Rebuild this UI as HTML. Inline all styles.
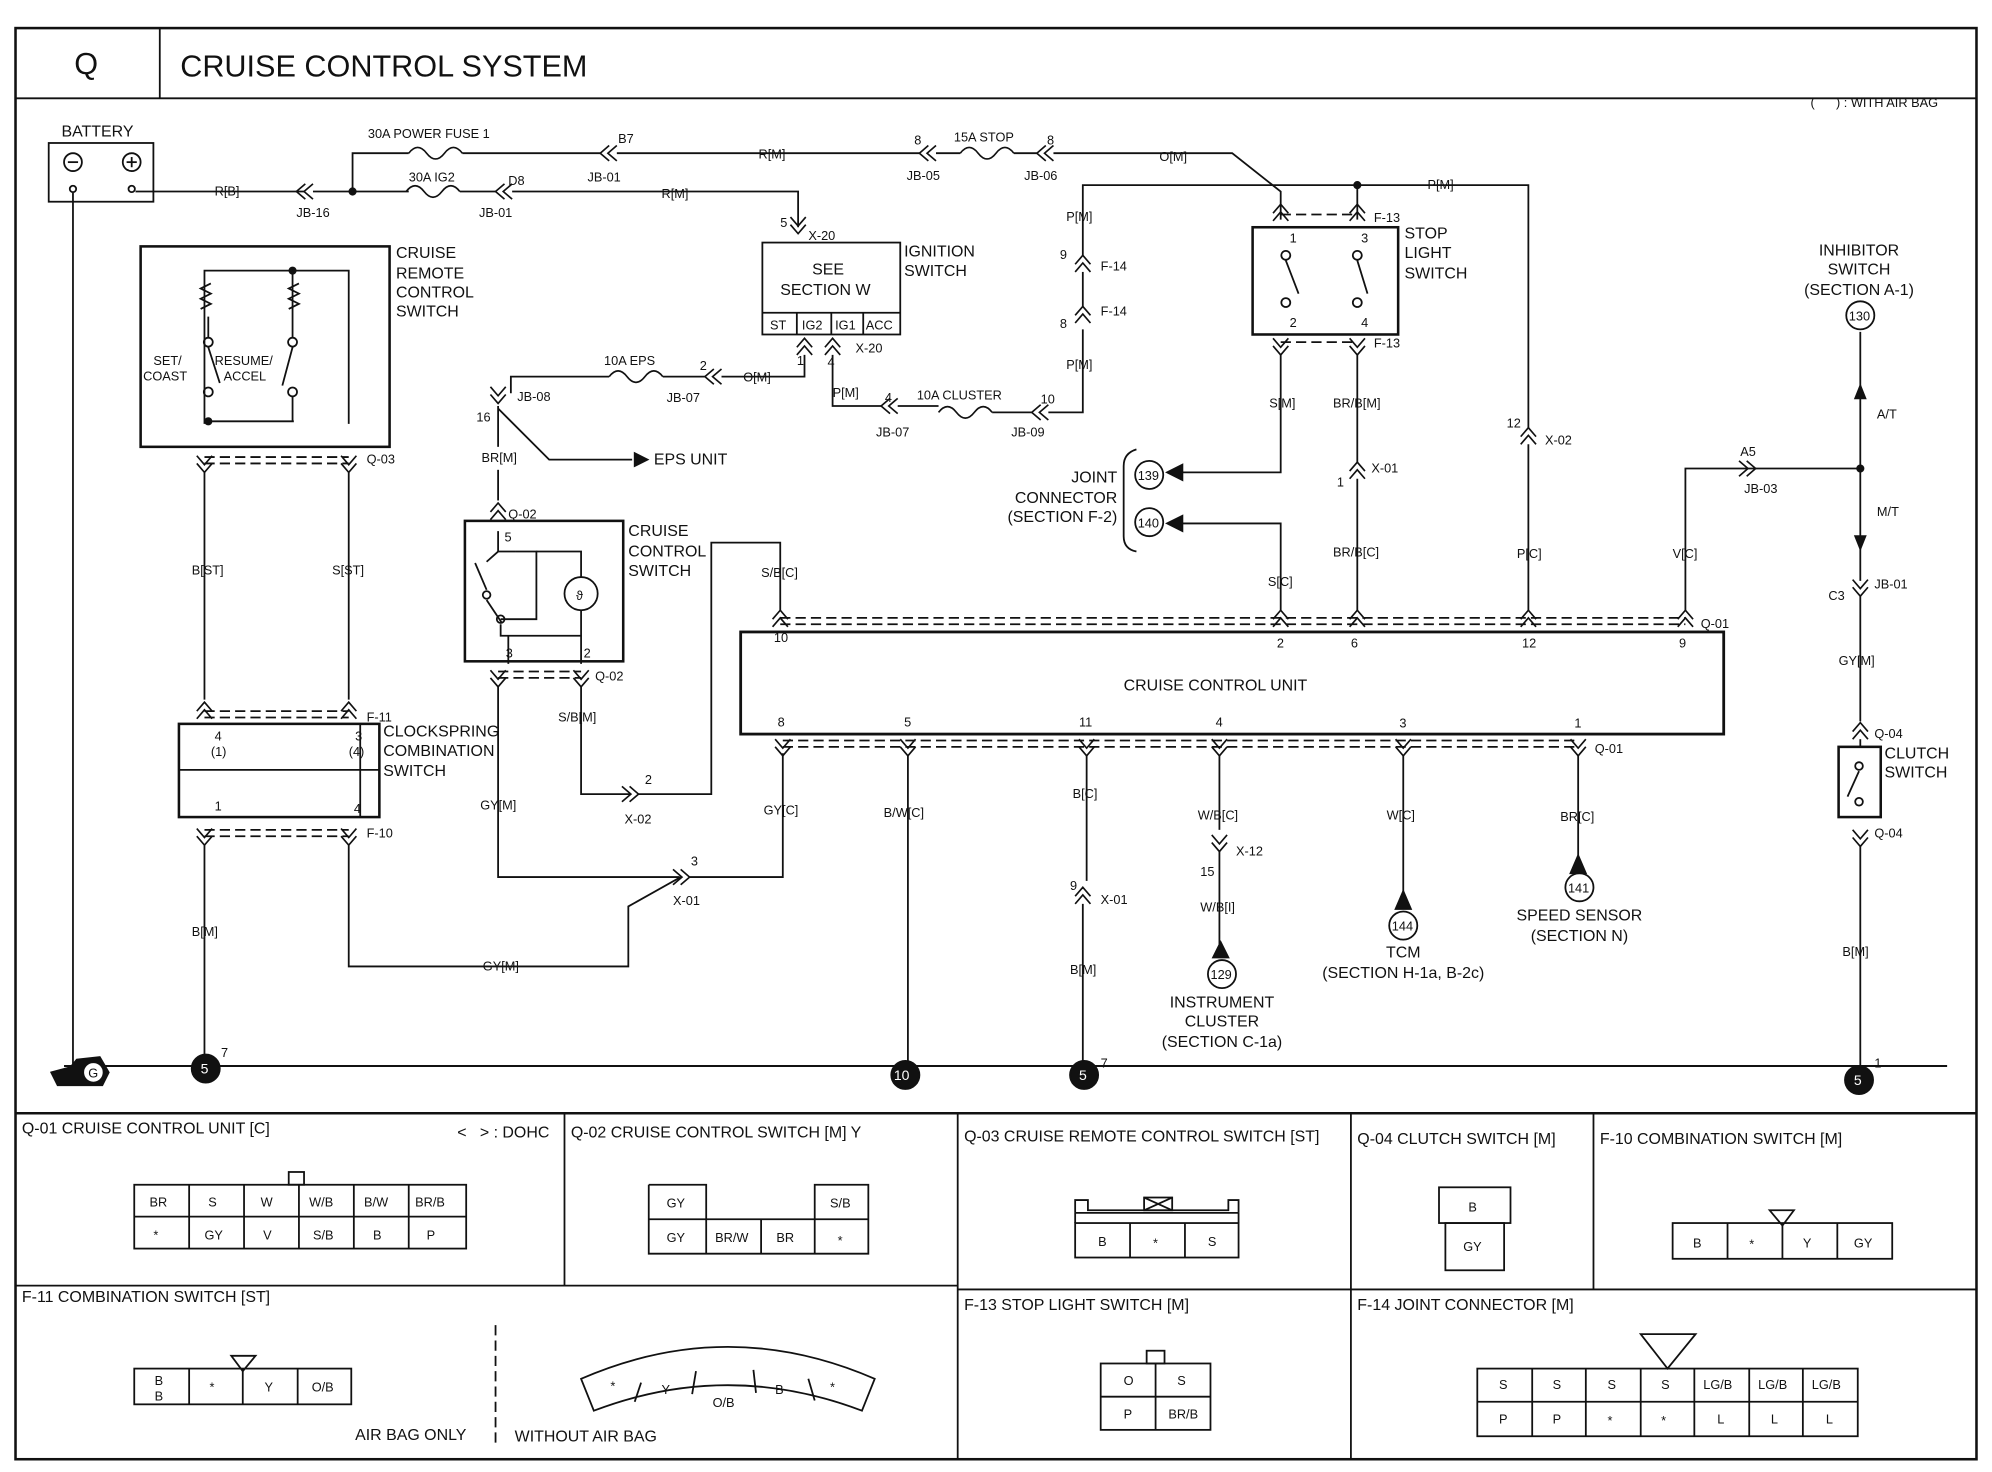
<!DOCTYPE html>
<html><head><meta charset="utf-8"><style>
html,body{margin:0;padding:0;background:#fff;}
svg{display:block;}
text{font-family:"Liberation Sans",sans-serif;fill:#111;}
.s{font-size:10px}.m{font-size:12.5px}.l{font-size:13.5px}
line,path,rect,polyline,circle{stroke:#111;fill:none;stroke-width:1.4}
.d{stroke-dasharray:8 4}
.f{fill:#111}
</style></head><body>
<svg width="1992" height="1472" viewBox="0 0 1560 1153" xmlns="http://www.w3.org/2000/svg">
<defs>
<path id="cv" d="M-6 7 L0 0 L6 7 M-6 13 L0 6 L6 13" style="stroke:#111;fill:none;stroke-width:1.3"/>
<path id="cd" d="M-6 -7 L0 0 L6 -7 M-6 -13 L0 -6 L6 -13" style="stroke:#111;fill:none;stroke-width:1.3"/>
<path id="ch" d="M7 -6 L0 0 L7 6 M13 -6 L6 0 L13 6" style="stroke:#111;fill:none;stroke-width:1.3"/>
<path id="fu" d="M0 0 q7 -9 14 0 q7 9 14 0 q7 -9 14 0" style="stroke:#111;fill:none;stroke-width:1.3"/>
</defs>
<rect x="12" y="22" width="1536" height="1121" style="stroke-width:2"/>
<line x1="12" y1="77" x2="1548" y2="77"/>
<line x1="125" y1="22" x2="125" y2="77"/>
<text x="58" y="58" style="font-size:24px">Q</text>
<text x="141" y="60" style="font-size:24px">CRUISE CONTROL SYSTEM</text>
<text x="1418" y="84" class="s">(&#160;&#160;&#160;&#160;&#160;&#160;) : WITH AIR BAG</text>

<text x="48" y="107" class="m">BATTERY</text>
<rect x="38" y="112" width="82" height="46"/>
<circle cx="57" cy="127" r="7"/><line x1="53" y1="127" x2="61" y2="127"/>
<circle cx="103" cy="127" r="7"/><line x1="99" y1="127" x2="107" y2="127"/><line x1="103" y1="123" x2="103" y2="131"/>
<circle cx="57" cy="148" r="2.5"/><circle cx="103" cy="148" r="2.5"/>
<line x1="57" y1="151" x2="57" y2="835"/>
<polyline points="106,150 238,150"/><use href="#ch" x="232" y="150"/>
<line x1="245" y1="150" x2="320" y2="150"/>
<text x="168" y="153" class="s">R[B]</text><text x="232" y="170" class="s">JB-16</text>
<circle cx="276" cy="150" r="2.5" class="f"/>
<polyline points="276,150 276,120 320,120"/>
<use href="#fu" x="320" y="120"/><text x="288" y="108" class="s">30A POWER FUSE 1</text>
<line x1="362" y1="120" x2="470" y2="120"/><use href="#ch" x="470" y="120"/>
<line x1="483" y1="120" x2="720" y2="120"/><text x="484" y="112" class="s">B7</text><text x="460" y="142" class="s">JB-01</text>
<text x="594" y="124" class="s">R[M]</text>
<use href="#ch" x="720" y="120"/><text x="716" y="113" class="s">8</text><text x="710" y="141" class="s">JB-05</text>
<line x1="733" y1="120" x2="752" y2="120"/><use href="#fu" x="752" y="120"/><text x="747" y="111" class="s">15A STOP</text>
<line x1="794" y1="120" x2="812" y2="120"/><use href="#ch" x="812" y="120"/><text x="820" y="113" class="s">8</text><text x="802" y="141" class="s">JB-06</text>
<polyline points="825,120 965,120 1003,150 1003,172"/><text x="908" y="126" class="s">O[M]</text>
<use href="#fu" x="318" y="150"/><text x="320" y="142" class="s">30A IG2</text>
<line x1="360" y1="150" x2="388" y2="150"/><use href="#ch" x="388" y="150"/><text x="398" y="145" class="s">D8</text><text x="375" y="170" class="s">JB-01</text>
<polyline points="401,150 625,150 625,178"/><text x="518" y="155" class="s">R[M]</text>
<use href="#cd" x="625" y="183"/><text x="611" y="178" class="s">5</text><text x="633" y="188" class="s">X-20</text>

<rect x="597" y="190" width="108" height="72"/>
<text x="636" y="215" class="m">SEE</text><text x="611" y="231" class="m">SECTION W</text>
<line x1="597" y1="245" x2="705" y2="245"/>
<line x1="624" y1="245" x2="624" y2="262"/><line x1="651" y1="245" x2="651" y2="262"/><line x1="676" y1="245" x2="676" y2="262"/>
<text x="603" y="258" class="s">ST</text><text x="628" y="258" class="s">IG2</text><text x="654" y="258" class="s">IG1</text><text x="678" y="258" class="s">ACC</text>
<text x="708" y="201" class="m">IGNITION</text><text x="708" y="216" class="m">SWITCH</text>
<use href="#cv" x="630" y="265"/><use href="#cv" x="652" y="265"/><text x="670" y="276" class="s">X-20</text>
<text x="624" y="286" class="s">1</text><text x="648" y="287" class="s">4</text>
<polyline points="630,278 630,295 565,295"/><text x="582" y="299" class="s">O[M]</text>
<use href="#ch" x="552" y="295"/><text x="548" y="290" class="s">2</text><text x="522" y="315" class="s">JB-07</text>
<line x1="519" y1="295" x2="552" y2="295"/><use href="#fu" x="477" y="295"/><text x="473" y="286" class="s">10A EPS</text>
<polyline points="477,295 400,295 400,308"/>
<use href="#cd" x="390" y="316"/><text x="405" y="314" class="s">JB-08</text><text x="373" y="330" class="s">16</text>
<line x1="390" y1="318" x2="390" y2="350"/>
<polyline points="390,320 430,360 495,360"/><path d="M497 355 L507 360 L497 365 Z" class="f"/>
<text x="512" y="364" class="m">EPS UNIT</text>
<text x="377" y="362" class="s">BR[M]</text>
<line x1="390" y1="368" x2="390" y2="392"/>
<use href="#cv" x="390" y="394"/><text x="398" y="406" class="s">Q-02</text>
<polyline points="652,278 652,318 690,318"/><text x="652" y="311" class="s">P[M]</text>
<use href="#ch" x="690" y="318"/><text x="693" y="315" class="s">4</text><text x="686" y="342" class="s">JB-07</text>
<line x1="703" y1="318" x2="735" y2="318"/><use href="#fu" x="735" y="323"/><text x="718" y="313" class="s">10A CLUSTER</text>
<line x1="777" y1="323" x2="808" y2="323"/><use href="#ch" x="808" y="323"/><text x="815" y="316" class="s">10</text><text x="792" y="342" class="s">JB-09</text>
<polyline points="821,323 848,323 848,258"/><text x="835" y="289" class="s">P[M]</text>
<use href="#cv" x="848" y="240"/><text x="830" y="257" class="s">8</text><text x="862" y="247" class="s">F-14</text>
<use href="#cv" x="848" y="200"/><text x="830" y="203" class="s">9</text><text x="862" y="212" class="s">F-14</text>
<line x1="848" y1="213" x2="848" y2="240"/>
<polyline points="848,200 848,145 1197,145 1197,335"/><text x="835" y="173" class="s">P[M]</text>
<circle cx="1063" cy="145" r="2.5" class="f"/><text x="1118" y="148" class="s">P[M]</text>
<line x1="1063" y1="145" x2="1063" y2="172"/>

<use href="#cv" x="1003" y="160"/><use href="#cv" x="1063" y="160"/>
<line x1="1003" y1="168" x2="1063" y2="168" class="d"/><text x="1076" y="174" class="s">F-13</text>
<rect x="981" y="178" width="114" height="84" style="stroke-width:2"/>
<text x="1100" y="187" class="m">STOP</text><text x="1100" y="202" class="m">LIGHT</text><text x="1100" y="218" class="m">SWITCH</text>
<text x="1010" y="190" class="s">1</text><text x="1066" y="190" class="s">3</text>
<text x="1010" y="256" class="s">2</text><text x="1066" y="256" class="s">4</text>
<circle cx="1007" cy="200" r="3.5"/><circle cx="1007" cy="237" r="3.5"/><line x1="1007" y1="204" x2="1017" y2="230"/>
<circle cx="1063" cy="200" r="3.5"/><circle cx="1063" cy="237" r="3.5"/><line x1="1063" y1="204" x2="1071" y2="230"/>
<use href="#cd" x="1003" y="278"/><use href="#cd" x="1063" y="278"/>
<line x1="1003" y1="268" x2="1063" y2="268" class="d"/><text x="1076" y="272" class="s">F-13</text>
<polyline points="1003,278 1003,370 925,370"/><path d="M926 364 L914 370 L926 376 Z" class="f"/>
<text x="994" y="319" class="s">S[M]</text>
<line x1="1063" y1="278" x2="1063" y2="362"/><text x="1044" y="319" class="s">BR/B[M]</text>
<use href="#cv" x="1063" y="362"/><text x="1074" y="370" class="s">X-01</text><text x="1047" y="381" class="s">1</text>
<line x1="1063" y1="375" x2="1063" y2="478"/><text x="1044" y="436" class="s">BR/B[C]</text>
<use href="#cv" x="1197" y="335"/><text x="1180" y="335" class="s">12</text><text x="1210" y="348" class="s">X-02</text>
<line x1="1197" y1="348" x2="1197" y2="478"/><text x="1188" y="437" class="s">P[C]</text>
<polyline points="1003,478 1003,410 925,410"/><path d="M926 404 L914 410 L926 416 Z" class="f"/><text x="993" y="459" class="s">S[C]</text>
<circle cx="900" cy="372" r="11"/><text x="891" y="376" class="s">139</text>
<circle cx="900" cy="409" r="11"/><text x="891" y="413" class="s">140</text>
<path d="M890 352 Q880 355 880 365 L880 420 Q880 430 890 432"/>
<text x="875" y="378" class="m" text-anchor="end">JOINT</text><text x="875" y="394" class="m" text-anchor="end">CONNECTOR</text><text x="875" y="409" class="m" text-anchor="end">(SECTION F-2)</text>

<rect x="110" y="193" width="195" height="157" style="stroke-width:2"/>
<text x="310" y="202" class="m">CRUISE</text><text x="310" y="218" class="m">REMOTE</text><text x="310" y="233" class="m">CONTROL</text><text x="310" y="248" class="m">SWITCH</text>
<polyline points="160,332 160,212 273,212 273,332"/><circle cx="229" cy="212" r="2.5" class="f"/>
<path d="M165 222 l-8 4 l8 4 l-8 4 l8 4 l-8 4"/><path d="M234 222 l-8 4 l8 4 l-8 4 l8 4 l-8 4"/>
<circle cx="163" cy="268" r="3.5"/><circle cx="163" cy="307" r="3.5"/><line x1="163" y1="272" x2="172" y2="300"/>
<circle cx="163" cy="330" r="2.5" class="f"/><line x1="160" y1="330" x2="230" y2="330"/>
<line x1="163" y1="248" x2="163" y2="264"/><line x1="229" y1="212" x2="229" y2="264"/>
<circle cx="229" cy="268" r="3.5"/><circle cx="229" cy="307" r="3.5"/><line x1="229" y1="272" x2="221" y2="302"/>
<line x1="229" y1="311" x2="229" y2="330"/>
<text x="120" y="286" class="s">SET/</text><text x="112" y="298" class="s">COAST</text>
<text x="168" y="286" class="s">RESUME/</text><text x="175" y="298" class="s">ACCEL</text>
<use href="#cd" x="160" y="370"/><use href="#cd" x="273" y="370"/>
<line x1="160" y1="358" x2="273" y2="358" class="d"/><line x1="160" y1="363" x2="273" y2="363" class="d"/><text x="287" y="363" class="s">Q-03</text>
<line x1="160" y1="370" x2="160" y2="548"/><line x1="273" y1="370" x2="273" y2="548"/>
<text x="150" y="450" class="s">B[ST]</text><text x="260" y="450" class="s">S[ST]</text>
<use href="#cv" x="160" y="550"/><use href="#cv" x="273" y="550"/>
<line x1="160" y1="557" x2="273" y2="557" class="d"/><line x1="160" y1="562" x2="273" y2="562" class="d"/><text x="287" y="565" class="s">F-11</text>
<rect x="140" y="567" width="157" height="73" style="stroke-width:2"/>
<line x1="140" y1="603" x2="297" y2="603"/><line x1="282" y1="567" x2="282" y2="640"/>
<text x="168" y="580" class="s">4</text><text x="165" y="592" class="s">(1)</text><text x="278" y="580" class="s">3</text><text x="273" y="592" class="s">(4)</text>
<text x="168" y="635" class="s">1</text><text x="277" y="637" class="s">4</text>
<text x="300" y="577" class="m">CLOCKSPRING</text><text x="300" y="592" class="m">COMBINATION</text><text x="300" y="608" class="m">SWITCH</text>
<use href="#cd" x="160" y="662"/><use href="#cd" x="273" y="662"/>
<line x1="160" y1="650" x2="273" y2="650" class="d"/><line x1="160" y1="655" x2="273" y2="655" class="d"/><text x="287" y="656" class="s">F-10</text>
<line x1="160" y1="662" x2="160" y2="828"/><text x="150" y="733" class="s">B[M]</text>
<polyline points="273,662 273,757 492,757 492,710 533,687"/><text x="378" y="760" class="s">GY[M]</text>

<rect x="364" y="408" width="124" height="110" style="stroke-width:2"/>
<text x="492" y="420" class="m">CRUISE</text><text x="492" y="436" class="m">CONTROL</text><text x="492" y="451" class="m">SWITCH</text>
<text x="395" y="424" class="s">5</text>
<polyline points="390,416 390,432 404,432"/>
<circle cx="381" cy="466" r="3"/><line x1="381" y1="470" x2="393" y2="488"/><line x1="372" y1="441" x2="381" y2="462"/>
<polyline points="390,432 381,440"/>
<circle cx="392" cy="485" r="3"/><polyline points="392,489 392,498 455,498"/>
<polyline points="404,432 420,432 420,485 392,485"/>
<polyline points="420,432 455,432 455,452"/>
<circle cx="455" cy="465" r="13"/><text x="451" y="470" class="s">ϑ</text>
<line x1="455" y1="478" x2="455" y2="520"/>
<line x1="398" y1="498" x2="398" y2="520"/>
<text x="396" y="515" class="s">3</text><text x="457" y="515" class="s">2</text>
<use href="#cd" x="390" y="538"/><use href="#cd" x="455" y="538"/>
<line x1="390" y1="526" x2="455" y2="526" class="d"/><line x1="390" y1="531" x2="455" y2="531" class="d"/><text x="466" y="533" class="s">Q-02</text>
<polyline points="390,538 390,687 532,687"/><text x="376" y="634" class="s">GY[M]</text>
<use href="#ch" x="540" y="687" transform="rotate(180 540 687)"/><text x="541" y="678" class="s">3</text><text x="527" y="709" class="s">X-01</text>
<polyline points="540,687 613,687 613,590"/><text x="598" y="638" class="s">GY[C]</text>
<polyline points="455,538 455,622 493,622"/><text x="437" y="565" class="s">S/B[M]</text>
<use href="#ch" x="500" y="622" transform="rotate(180 500 622)"/><text x="505" y="614" class="s">2</text><text x="489" y="645" class="s">X-02</text>
<polyline points="500,622 557,622 557,425 611,425 611,478"/><text x="596" y="452" class="s">S/B[C]</text>

<g>
<use href="#cv" x="611" y="478"/><use href="#cv" x="1003" y="478"/><use href="#cv" x="1063" y="478"/><use href="#cv" x="1197" y="478"/><use href="#cv" x="1320" y="478"/>
<line x1="611" y1="484" x2="1320" y2="484" class="d"/><line x1="611" y1="489" x2="1320" y2="489" class="d"/><text x="1332" y="492" class="s">Q-01</text>
</g>
<polyline points="1320,478 1320,367 1375,367"/><text x="1310" y="437" class="s">V[C]</text>
<rect x="580" y="495" width="770" height="80" style="stroke-width:2.2"/>
<text x="880" y="541" class="m">CRUISE CONTROL UNIT</text>
<text x="606" y="503" class="s">10</text><text x="1000" y="507" class="s">2</text><text x="1058" y="507" class="s">6</text><text x="1192" y="507" class="s">12</text><text x="1315" y="507" class="s">9</text>
<text x="609" y="569" class="s">8</text><text x="708" y="569" class="s">5</text><text x="845" y="569" class="s">11</text><text x="952" y="569" class="s">4</text><text x="1096" y="570" class="s">3</text><text x="1233" y="570" class="s">1</text>
<g>
<use href="#cd" x="613" y="592"/><use href="#cd" x="711" y="592"/><use href="#cd" x="851" y="592"/><use href="#cd" x="955" y="592"/><use href="#cd" x="1099" y="592"/><use href="#cd" x="1236" y="592"/>
<line x1="613" y1="580" x2="1236" y2="580" class="d"/><line x1="613" y1="585" x2="1236" y2="585" class="d"/><text x="1249" y="590" class="s">Q-01</text>
</g>
<line x1="711" y1="592" x2="711" y2="835"/><text x="692" y="640" class="s">B/W[C]</text>
<line x1="851" y1="592" x2="851" y2="690"/><text x="840" y="625" class="s">B[C]</text>
<use href="#cv" x="848" y="695"/><text x="838" y="697" class="s">9</text><text x="862" y="708" class="s">X-01</text>
<line x1="848" y1="708" x2="848" y2="835"/><text x="838" y="763" class="s">B[M]</text>
<line x1="955" y1="592" x2="955" y2="650"/><text x="938" y="642" class="s">W/B[C]</text>
<use href="#cd" x="955" y="667"/><text x="968" y="670" class="s">X-12</text><text x="940" y="686" class="s">15</text>
<line x1="955" y1="667" x2="955" y2="740"/><text x="940" y="714" class="s">W/B[I]</text>
<path d="M950 750 L956 738 L962 750 Z" class="f"/><circle cx="957" cy="763" r="11"/><text x="948" y="767" class="s">129</text>
<text x="957" y="789" class="m" text-anchor="middle">INSTRUMENT</text><text x="957" y="804" class="m" text-anchor="middle">CLUSTER</text><text x="957" y="820" class="m" text-anchor="middle">(SECTION C-1a)</text>
<line x1="1099" y1="592" x2="1099" y2="700"/><text x="1086" y="642" class="s">W[C]</text>
<path d="M1093 712 L1099 698 L1105 712 Z" class="f"/><circle cx="1099" cy="725" r="11"/><text x="1090" y="729" class="s">144</text>
<text x="1099" y="750" class="m" text-anchor="middle">TCM</text><text x="1099" y="766" class="m" text-anchor="middle">(SECTION H-1a, B-2c)</text>
<line x1="1236" y1="592" x2="1236" y2="670"/><text x="1222" y="643" class="s">BR[C]</text>
<path d="M1230 684 L1236 670 L1242 684 Z" class="f"/><circle cx="1237" cy="695" r="11"/><text x="1228" y="699" class="s">141</text>
<text x="1237" y="721" class="m" text-anchor="middle">SPEED SENSOR</text><text x="1237" y="737" class="m" text-anchor="middle">(SECTION N)</text>

<use href="#ch" x="1375" y="367" transform="rotate(180 1375 367)"/><text x="1363" y="357" class="s">A5</text><text x="1366" y="386" class="s">JB-03</text>
<line x1="1375" y1="367" x2="1457" y2="367"/><circle cx="1457" cy="367" r="2.5" class="f"/>
<line x1="1457" y1="260" x2="1457" y2="455"/><path d="M1453 312 L1457 302 L1461 312 Z" class="f"/><path d="M1453 420 L1457 430 L1461 420 Z" class="f"/>
<text x="1470" y="328" class="s">A/T</text><text x="1470" y="404" class="s">M/T</text>
<circle cx="1457" cy="247" r="11"/><text x="1448" y="251" class="s">130</text>
<text x="1456" y="200" class="m" text-anchor="middle">INHIBITOR</text><text x="1456" y="215" class="m" text-anchor="middle">SWITCH</text><text x="1456" y="231" class="m" text-anchor="middle">(SECTION A-1)</text>
<use href="#cd" x="1457" y="467"/><text x="1468" y="461" class="s">JB-01</text><text x="1432" y="470" class="s">C3</text>
<line x1="1457" y1="467" x2="1457" y2="565"/><text x="1440" y="521" class="s">GY[M]</text>
<use href="#cv" x="1457" y="566"/><text x="1468" y="578" class="s">Q-04</text>
<line x1="1457" y1="579" x2="1457" y2="585"/>
<rect x="1440" y="585" width="33" height="55" style="stroke-width:2"/>
<circle cx="1456" cy="600" r="3"/><circle cx="1456" cy="628" r="3"/><line x1="1456" y1="604" x2="1447" y2="624"/>
<text x="1476" y="594" class="m">CLUTCH</text><text x="1476" y="609" class="m">SWITCH</text>
<use href="#cd" x="1457" y="663"/><text x="1468" y="656" class="s">Q-04</text>
<line x1="1457" y1="663" x2="1457" y2="835"/><text x="1443" y="749" class="s">B[M]</text>

<line x1="50" y1="835" x2="1525" y2="835" style="stroke-width:1.6"/>
<circle cx="161" cy="837" r="11" class="f"/><text x="157" y="841" style="font-size:11px;fill:#fff">5</text><text x="173" y="828" class="s">7</text>
<circle cx="709" cy="842" r="11" class="f"/><text x="700" y="846" style="font-size:11px;fill:#fff">10</text>
<circle cx="849" cy="842" r="11" class="f"/><text x="845" y="846" style="font-size:11px;fill:#fff">5</text><text x="862" y="836" class="s">7</text>
<circle cx="1456" cy="846" r="11" class="f"/><text x="1452" y="850" style="font-size:11px;fill:#fff">5</text><text x="1468" y="836" class="s">1</text>
<path d="M40 840 L55 836 L60 830 L78 828 L85 840 L80 850 L45 850 Z" class="f"/><circle cx="73" cy="840" r="8" style="fill:#fff;stroke:#111"/><text x="69" y="844" class="s">G</text>

<line x1="12" y1="872" x2="1548" y2="872" style="stroke-width:2"/>
<line x1="12" y1="1007" x2="750" y2="1007"/><line x1="750" y1="1010" x2="1548" y2="1010"/>
<line x1="442" y1="872" x2="442" y2="1007"/><line x1="750" y1="872" x2="750" y2="1143"/><line x1="1058" y1="872" x2="1058" y2="1143"/><line x1="1248" y1="872" x2="1248" y2="1010"/>
<text x="17" y="888" class="m">Q-01 CRUISE CONTROL UNIT [C]</text><text x="358" y="891" class="m">&lt;&#160;&#160;&#160;&gt; : DOHC</text>
<text x="447" y="891" class="m">Q-02 CRUISE CONTROL SWITCH [M] Y</text>
<text x="755" y="894" class="m">Q-03 CRUISE REMOTE CONTROL SWITCH [ST]</text>
<text x="1063" y="896" class="m">Q-04 CLUTCH SWITCH [M]</text>
<text x="1253" y="896" class="m">F-10 COMBINATION SWITCH [M]</text>
<text x="17" y="1020" class="m">F-11 COMBINATION SWITCH [ST]</text>
<text x="755" y="1026" class="m">F-13 STOP LIGHT SWITCH [M]</text>
<text x="1063" y="1026" class="m">F-14 JOINT CONNECTOR [M]</text>

<rect x="105" y="928" width="260" height="50"/><line x1="105" y1="953" x2="365" y2="953"/>
<rect x="226" y="918" width="12" height="10"/>
<line x1="148" y1="928" x2="148" y2="978"/><line x1="191" y1="928" x2="191" y2="978"/><line x1="234" y1="928" x2="234" y2="978"/><line x1="277" y1="928" x2="277" y2="978"/><line x1="320" y1="928" x2="320" y2="978"/>
<text x="117" y="945" class="s">BR</text><text x="163" y="945" class="s">S</text><text x="204" y="945" class="s">W</text><text x="242" y="945" class="s">W/B</text><text x="285" y="945" class="s">B/W</text><text x="325" y="945" class="s">BR/B</text>
<text x="120" y="971" class="s">*</text><text x="160" y="971" class="s">GY</text><text x="206" y="971" class="s">V</text><text x="245" y="971" class="s">S/B</text><text x="292" y="971" class="s">B</text><text x="334" y="971" class="s">P</text>
<polyline points="508,928 553,928 553,955 638,955 638,928 680,928 680,982 508,982 508,928"/>
<line x1="508" y1="955" x2="553" y2="955"/><line x1="638" y1="955" x2="680" y2="955"/>
<line x1="553" y1="955" x2="553" y2="982"/><line x1="596" y1="955" x2="596" y2="982"/><line x1="638" y1="955" x2="638" y2="982"/>
<text x="522" y="946" class="s">GY</text><text x="650" y="946" class="s">S/B</text><text x="522" y="973" class="s">GY</text><text x="560" y="973" class="s">BR/W</text><text x="608" y="973" class="s">BR</text><text x="656" y="975" class="s">*</text>
<polyline points="842,950 842,940 852,940 852,948 962,948 962,940 970,940 970,950"/>
<rect x="842" y="958" width="128" height="27"/><line x1="842" y1="950" x2="970" y2="950"/><line x1="842" y1="950" x2="842" y2="958"/><line x1="970" y1="950" x2="970" y2="958"/>
<line x1="885" y1="958" x2="885" y2="985"/><line x1="928" y1="958" x2="928" y2="985"/>
<rect x="896" y="938" width="22" height="10"/><line x1="896" y1="938" x2="918" y2="948"/><line x1="918" y1="938" x2="896" y2="948"/>
<text x="860" y="976" class="s">B</text><text x="903" y="977" class="s">*</text><text x="946" y="976" class="s">S</text>
<rect x="1127" y="930" width="56" height="28"/><rect x="1132" y="958" width="46" height="37"/>
<text x="1150" y="949" class="s">B</text><text x="1146" y="980" class="s">GY</text>
<rect x="1310" y="958" width="172" height="28"/><line x1="1353" y1="958" x2="1353" y2="986"/><line x1="1396" y1="958" x2="1396" y2="986"/><line x1="1439" y1="958" x2="1439" y2="986"/>
<path d="M1386 948 L1405 948 L1396 960 Z"/>
<text x="1326" y="977" class="s">B</text><text x="1370" y="978" class="s">*</text><text x="1412" y="977" class="s">Y</text><text x="1452" y="977" class="s">GY</text>
<rect x="105" y="1072" width="170" height="28"/><line x1="148" y1="1072" x2="148" y2="1100"/><line x1="190" y1="1072" x2="190" y2="1100"/><line x1="233" y1="1072" x2="233" y2="1100"/>
<path d="M181 1062 L200 1062 L190 1074 Z"/>
<text x="121" y="1085" class="s">B</text><text x="121" y="1097" class="s">B</text><text x="164" y="1090" class="s">*</text><text x="207" y="1090" class="s">Y</text><text x="244" y="1090" class="s">O/B</text>
<path d="M455 1080 Q570 1030 685 1080 L675 1105 Q570 1065 465 1105 Z"/>
<line x1="502" y1="1083" x2="497" y2="1098"/><line x1="545" y1="1074" x2="542" y2="1092"/><line x1="590" y1="1073" x2="592" y2="1091"/><line x1="633" y1="1080" x2="638" y2="1097"/>
<text x="478" y="1089" class="s">*</text><text x="518" y="1092" class="s">Y</text><text x="558" y="1102" class="s">O/B</text><text x="607" y="1092" class="s">B</text><text x="650" y="1090" class="s">*</text>
<line x1="388" y1="1038" x2="388" y2="1130" class="d"/>
<text x="278" y="1128" class="m">AIR BAG ONLY</text><text x="403" y="1129" class="m">WITHOUT AIR BAG</text>
<rect x="862" y="1068" width="86" height="52"/><line x1="862" y1="1094" x2="948" y2="1094"/><line x1="905" y1="1068" x2="905" y2="1120"/>
<rect x="898" y="1058" width="14" height="10"/>
<text x="880" y="1085" class="s">O</text><text x="922" y="1085" class="s">S</text><text x="880" y="1111" class="s">P</text><text x="915" y="1111" class="s">BR/B</text>
<rect x="1157" y="1072" width="298" height="53"/><line x1="1157" y1="1098" x2="1455" y2="1098"/>
<line x1="1200" y1="1072" x2="1200" y2="1125"/><line x1="1242" y1="1072" x2="1242" y2="1125"/><line x1="1285" y1="1072" x2="1285" y2="1125"/><line x1="1327" y1="1072" x2="1327" y2="1125"/><line x1="1370" y1="1072" x2="1370" y2="1125"/><line x1="1412" y1="1072" x2="1412" y2="1125"/>
<path d="M1285 1045 L1328 1045 L1306 1072 Z"/>
<text x="1174" y="1088" class="s">S</text><text x="1216" y="1088" class="s">S</text><text x="1259" y="1088" class="s">S</text><text x="1301" y="1088" class="s">S</text><text x="1334" y="1088" class="s">LG/B</text><text x="1377" y="1088" class="s">LG/B</text><text x="1419" y="1088" class="s">LG/B</text>
<text x="1174" y="1115" class="s">P</text><text x="1216" y="1115" class="s">P</text><text x="1259" y="1116" class="s">*</text><text x="1301" y="1116" class="s">*</text><text x="1345" y="1115" class="s">L</text><text x="1387" y="1115" class="s">L</text><text x="1430" y="1115" class="s">L</text>
</svg>
</body></html>
